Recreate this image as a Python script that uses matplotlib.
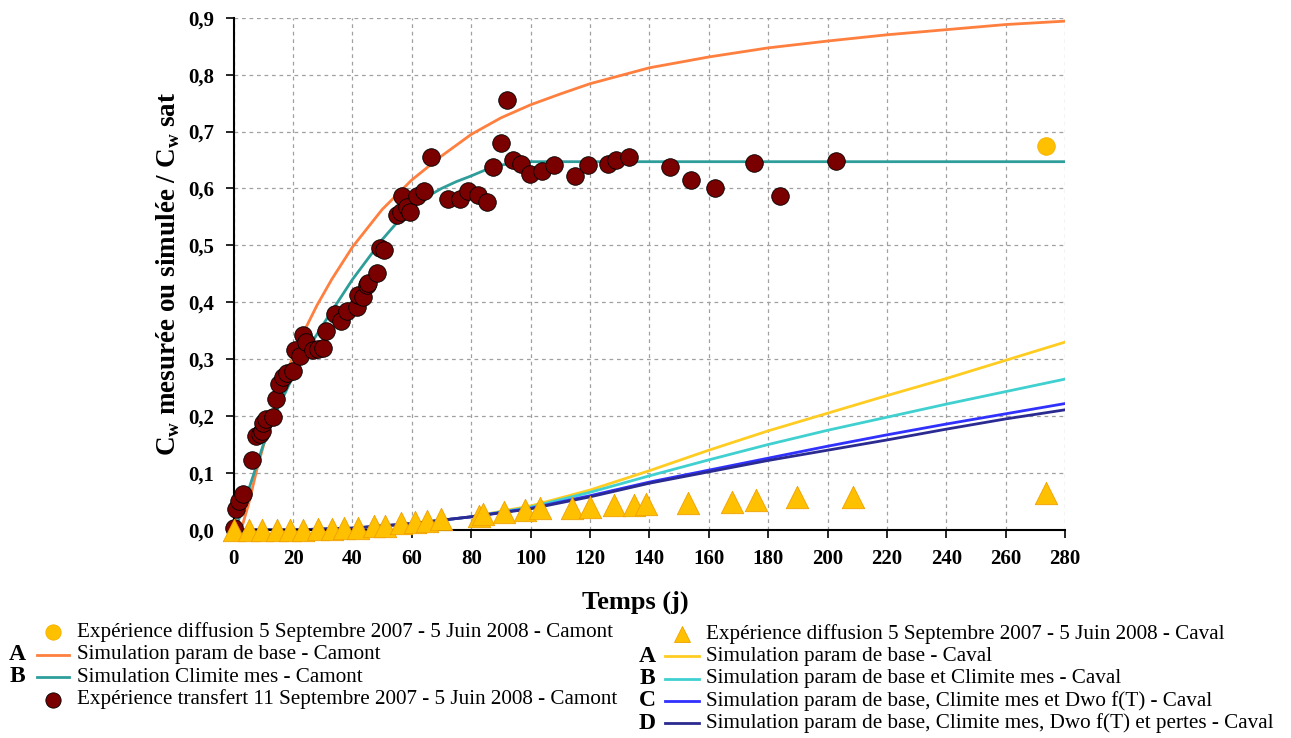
import numpy as np
import matplotlib
matplotlib.use("Agg")
import matplotlib.pyplot as plt
from matplotlib.lines import Line2D

plt.rcParams['font.family'] = ['Liberation Serif', 'DejaVu Serif']
plt.rcParams['mathtext.fontset'] = 'custom'
plt.rcParams['mathtext.rm'] = 'Liberation Serif'
plt.rcParams['mathtext.bf'] = 'Liberation Serif:bold'

# --- experimental data -------------------------------------------------------
# Expérience transfert 11 Septembre 2007 - 5 Juin 2008 - Camont
transfert_days = [0.0, 0.8, 1.9, 3.3, 6.1, 7.5, 8.7, 9.5, 10.0, 10.8, 13.1, 14.1,
                  15.2, 16.6, 18.0, 20.0, 20.6, 22.2, 23.4, 24.3, 26.7, 28.4, 30.1,
                  31.0, 34.0, 36.3, 38.0, 41.6, 41.9, 43.6, 44.9, 45.3, 48.3, 49.4,
                  50.5, 55.0, 56.2, 56.8, 58.4, 59.3, 61.8, 64.0, 66.4, 72.2, 76.1,
                  78.9, 82.3, 85.4, 87.2, 90.0, 91.9, 94.1, 96.9, 99.9, 103.7, 107.9,
                  114.8, 119.4, 126.1, 128.9, 133.1, 147.1, 154.0, 162.1, 175.2,
                  184.0, 202.8]
transfert_vals = [0.003, 0.036, 0.050, 0.063, 0.123, 0.165, 0.169, 0.173, 0.188, 0.195,
                  0.199, 0.230, 0.256, 0.269, 0.276, 0.279, 0.316, 0.306, 0.343, 0.331,
                  0.316, 0.318, 0.320, 0.350, 0.379, 0.367, 0.384, 0.391, 0.413, 0.410,
                  0.430, 0.434, 0.451, 0.495, 0.491, 0.554, 0.559, 0.586, 0.568, 0.559,
                  0.586, 0.596, 0.656, 0.582, 0.581, 0.595, 0.589, 0.577, 0.637, 0.680,
                  0.756, 0.650, 0.643, 0.626, 0.631, 0.642, 0.622, 0.641, 0.643, 0.650,
                  0.655, 0.638, 0.615, 0.600, 0.644, 0.586, 0.649]

# Expérience diffusion 5 Septembre 2007 - 5 Juin 2008 - Camont
camont_diff_days = [273.6]
camont_diff_vals = [0.675]

# Expérience diffusion 5 Septembre 2007 - 5 Juin 2008 - Caval
caval_days = [0, 5.3, 9.4, 14.6, 19.1, 23.2, 28.3, 33.1, 37.1, 42, 47.1, 51, 56.4,
              61.2, 65.2, 69.9, 82.6, 84.0, 91.0, 98.0, 103.3, 113.9, 120.0, 128.1,
              134.9, 138.9, 152.9, 167.8, 176.0, 189.8, 208.7, 273.6]
caval_vals = [0.0, 0.0, 0.0, 0.0, 0.0, 0.0, 0.002, 0.002, 0.003, 0.004, 0.006, 0.007,
              0.012, 0.013, 0.016, 0.019, 0.025, 0.028, 0.032, 0.035, 0.038, 0.038,
              0.041, 0.043, 0.044, 0.045, 0.048, 0.049, 0.053, 0.057, 0.058, 0.065]

# --- simulations ----------------------------------------------------------------
camA_days = [0, 2.5, 5, 8, 12, 16, 20, 24, 28, 33, 40, 50, 60, 70, 80, 90, 100, 110,
             120, 140, 160, 180, 200, 220, 240, 260, 280]
camA_vals = [0.0, 0.0, 0.045, 0.11, 0.185, 0.25, 0.305, 0.352, 0.394, 0.440, 0.497,
             0.563, 0.615, 0.657, 0.695, 0.724, 0.747, 0.766, 0.784, 0.812, 0.831,
             0.847, 0.859, 0.870, 0.879, 0.888, 0.894]

camB_days = [0, 1.3, 5, 10, 15, 20, 25, 30, 35, 40, 45, 50, 55, 60, 65, 70, 75, 80,
             85, 90, 95, 100, 140, 200, 280]
camB_vals = [0.0, 0.012, 0.07, 0.15, 0.215, 0.27, 0.318, 0.36, 0.40, 0.44, 0.475,
             0.51, 0.54, 0.565, 0.585, 0.60, 0.612, 0.622, 0.633, 0.641, 0.645, 0.647,
             0.647, 0.647, 0.647]

sim_days = [0, 20, 40, 60, 80, 100, 120, 140, 160, 180, 200, 220, 240, 260, 280]
cavA_vals = [0.0, 0.0, 0.003, 0.011, 0.023, 0.042, 0.070, 0.104, 0.140, 0.174, 0.205,
             0.236, 0.266, 0.298, 0.330]
cavB_vals = [0.0, 0.0, 0.003, 0.011, 0.023, 0.040, 0.066, 0.095, 0.123, 0.150, 0.175,
             0.198, 0.221, 0.243, 0.265]
cavC_vals = [0.0, 0.0, 0.003, 0.011, 0.023, 0.038, 0.060, 0.084, 0.105, 0.126, 0.147,
             0.167, 0.186, 0.204, 0.222]
cavD_vals = [0.0, 0.0, 0.003, 0.011, 0.023, 0.037, 0.058, 0.082, 0.102, 0.122, 0.140,
             0.158, 0.177, 0.195, 0.211]

xticks = list(range(0, 281, 20))
yticks = [i / 10 for i in range(10)]

ORANGE = '#ff7f3f'
TEAL = '#2e9e9a'
YELLOW = '#ffcc22'
TURQ = '#40d0d0'
BLUE = '#3030ff'
NAVY = '#2a2a90'
DARKRED = '#7a0000'
GOLD = '#ffc000'


def main():
    fig = plt.figure(figsize=(12.91, 7.38), dpi=100)
    ax = fig.add_axes([0.181, 0.282, 0.644, 0.694])

    # simulation curves
    ax.plot(camA_days, camA_vals, color=ORANGE, lw=2)
    ax.plot(camB_days, camB_vals, color=TEAL, lw=2)
    ax.plot(sim_days, cavA_vals, color=YELLOW, lw=2)
    ax.plot(sim_days, cavB_vals, color=TURQ, lw=2)
    ax.plot(sim_days, cavC_vals, color=BLUE, lw=2)
    ax.plot(sim_days, cavD_vals, color=NAVY, lw=2)

    # experimental points
    ax.scatter(transfert_days, transfert_vals, s=160, c=DARKRED, edgecolors='black',
               linewidths=0.6, zorder=4, clip_on=False)
    ax.scatter(camont_diff_days, camont_diff_vals, s=160, c=GOLD, edgecolors='#f5b000',
               linewidths=0.6, zorder=4, clip_on=False)
    ax.scatter(caval_days, caval_vals, s=260, marker='^', c=GOLD, edgecolors='#f0a000',
               linewidths=0.6, zorder=5, clip_on=False)

    ax.set_xlim(0, 280)
    ax.set_ylim(0, 0.9)
    ax.set_xticks(xticks)
    ax.set_yticks(yticks)
    ax.set_xticklabels([str(t) for t in xticks])
    ax.set_yticklabels([f'{t:.1f}'.replace('.', ',') for t in yticks])
    for lab in ax.get_xticklabels() + ax.get_yticklabels():
        lab.set_fontweight('bold')
        lab.set_fontsize(15)
    ax.tick_params(direction='out', length=6, width=1.2, pad=8)
    ax.spines['top'].set_visible(False)
    ax.spines['right'].set_visible(False)
    ax.spines['left'].set_linewidth(1.5)
    ax.spines['bottom'].set_linewidth(1.5)
    ax.grid(True, linestyle=(0, (3, 3)), color='#a0a0a0', linewidth=0.9)
    ax.set_axisbelow(True)

    ax.set_xlabel('Temps (j)', fontsize=19, fontweight='bold')
    ax.xaxis.set_label_coords(0.483, -0.118)
    ax.set_ylabel(r'C$_\mathbf{w}$ mesurée ou simulée / C$_\mathbf{w}$ sat',
                  fontsize=19.5, fontweight='bold')
    ax.yaxis.set_label_coords(-0.062, 0.5)

    # legend, drawn by hand in two columns
    W, H = 1291.0, 738.0

    def fx(px):
        return px / W

    def fy(py):
        return 1 - py / H

    left_rows = [
        ('', 'marker', dict(marker='o', color=GOLD, mec='#f5b000'),
         'Expérience diffusion 5 Septembre 2007 - 5 Juin 2008 - Camont'),
        ('A', 'line', dict(color=ORANGE), 'Simulation param de base - Camont'),
        ('B', 'line', dict(color=TEAL), 'Simulation Climite mes - Camont'),
        ('', 'marker', dict(marker='o', color=DARKRED, mec='black'),
         'Expérience transfert 11 Septembre 2007 - 5 Juin 2008 - Camont'),
    ]
    right_rows = [
        ('', 'marker', dict(marker='^', color=GOLD, mec='#f0a000'),
         'Expérience diffusion 5 Septembre 2007 - 5 Juin 2008 - Caval'),
        ('A', 'line', dict(color=YELLOW), 'Simulation param de base - Caval'),
        ('B', 'line', dict(color=TURQ), 'Simulation param de base et Climite mes - Caval'),
        ('C', 'line', dict(color=BLUE), 'Simulation param de base, Climite mes et Dwo f(T) - Caval'),
        ('D', 'line', dict(color=NAVY), 'Simulation param de base, Climite mes, Dwo f(T) et pertes - Caval'),
    ]

    def draw_column(rows, y0, dy, letter_x, line_x0, line_x1, text_x):
        for i, (letter, kind, style, label) in enumerate(rows):
            y = fy(y0 + i * dy)
            if kind == 'line':
                fig.add_artist(Line2D([fx(line_x0), fx(line_x1)], [y, y], lw=2,
                                      transform=fig.transFigure, **style))
            else:
                xm = fx((line_x0 + line_x1) / 2)
                fig.add_artist(Line2D([xm], [y], ls='none', ms=11, mew=0.6,
                                      transform=fig.transFigure, **style))
            if letter:
                fig.text(fx(letter_x), y, letter, fontsize=17, fontweight='bold',
                         ha='center', va='center')
            fig.text(fx(text_x), y, label, fontsize=15.2, ha='left', va='center')

    draw_column(left_rows, 632, 22.5, 17, 37, 69, 77)
    draw_column(right_rows, 634, 22.3, 647, 665, 699, 706)

    fig.savefig('out.png', dpi=100)


if __name__ == "__main__":
    main()
